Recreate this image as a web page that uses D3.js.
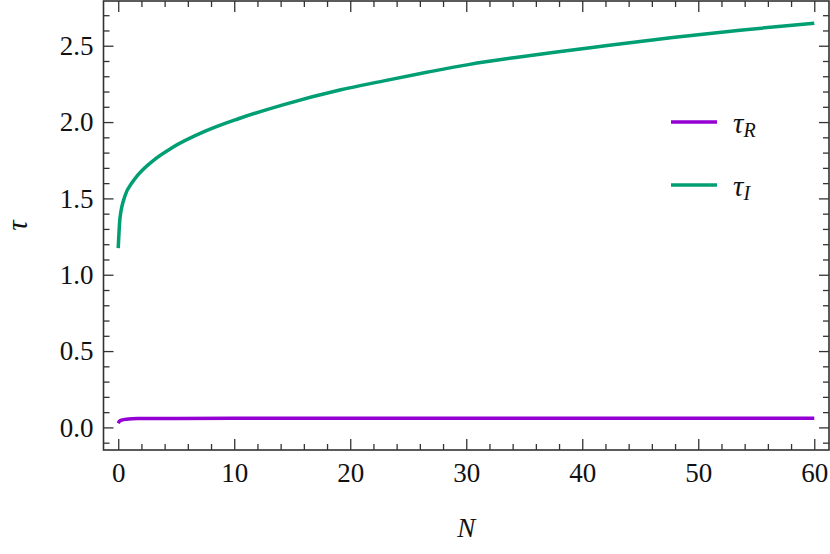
<!DOCTYPE html>
<html>
<head>
<meta charset="utf-8">
<script src="https://cdn.jsdelivr.net/npm/d3@7"></script>
<style>
  html, body { margin: 0; padding: 0; background: #fff; }
  svg { display: block; }
  text { font-family: "Liberation Serif", "Times New Roman", Times, serif; fill: #111; }
</style>
</head>
<body>
<div id="app"></div>
<script>
// values
const nImag = [0, 0.15, 0.6, 1.2, 1.7, 3.2, 4.6, 7.5, 10.3, 14.2, 19.1, 22.9, 26.6, 30.3, 34.1, 37.8, 41.5, 47.8, 53.6, 60];
const tauImag = [1.174, 1.37, 1.52, 1.604, 1.654, 1.759, 1.83, 1.94, 2.02, 2.113, 2.21, 2.27, 2.326, 2.378, 2.421, 2.459, 2.495, 2.554, 2.602, 2.648];

const nReal = [0, 0.1, 0.3, 0.7, 1.7, 5, 15, 30, 60];
const tauReal = [0.027, 0.04, 0.048, 0.054, 0.058, 0.059, 0.0595, 0.0596, 0.0596];

const xTicks = [0, 10, 20, 30, 40, 50, 60];
const yTicks = [0.0, 0.5, 1.0, 1.5, 2.0, 2.5];

const series = [
  { name: 'R', color: '#9400d3', n: nReal, tau: tauReal },
  { name: 'I', color: '#009e73', n: nImag, tau: tauImag },
];

const render = () => {
  const width = 830;
  const height = 554;
  const left = 103.5, right = 829, top = 1, bottom = 450;
  const frameColor = '#333';
  const serif = '"Liberation Serif", "Times New Roman", Times, serif';

  const svg = d3.select('#app').append('svg')
    .attr('width', width)
    .attr('height', height);

  const x = d3.scaleLinear()
    .domain([-1.27, 61.27])
    .range([left, right]);

  const y = d3.scaleLinear()
    .domain([-0.148, 2.793])
    .range([bottom, top]);

  const line = d3.line()
    .x(d => x(d[0]))
    .y(d => y(d[1]))
    .curve(d3.curveMonotoneX);

  const plot = svg.append('g');
  series.forEach(s => {
    plot.append('path')
      .datum(d3.zip(s.n, s.tau))
      .attr('fill', 'none')
      .attr('stroke', s.color)
      .attr('stroke-width', 3.5)
      .attr('d', line);
  });

  // minor tick positions
  const xMinor = d3.range(0, 61, 2).filter(v => v % 10 !== 0);
  const yMinor = d3.range(-1, 28).map(v => v / 10).filter(v => Math.round(v * 10) % 5 !== 0);

  const styleAxis = g => {
    g.select('.domain').remove();
    g.selectAll('line').attr('stroke', frameColor).attr('stroke-width', 1.3);
    g.selectAll('text')
      .style('font-size', '27px')
      .style('font-family', serif)
      .attr('fill', '#111');
  };

  // bottom
  svg.append('g').attr('transform', `translate(0, ${bottom})`)
    .call(d3.axisBottom(x).tickValues(xTicks).tickFormat(d3.format('d')).tickSize(-11).tickPadding(13))
    .call(styleAxis);
  svg.append('g').attr('transform', `translate(0, ${bottom})`)
    .call(d3.axisBottom(x).tickValues(xMinor).tickFormat('').tickSize(-6))
    .call(styleAxis);
  // top
  svg.append('g').attr('transform', `translate(0, ${top})`)
    .call(d3.axisTop(x).tickValues(xTicks).tickFormat('').tickSize(-11))
    .call(styleAxis);
  svg.append('g').attr('transform', `translate(0, ${top})`)
    .call(d3.axisTop(x).tickValues(xMinor).tickFormat('').tickSize(-6))
    .call(styleAxis);
  // left
  svg.append('g').attr('transform', `translate(${left}, 0)`)
    .call(d3.axisLeft(y).tickValues(yTicks).tickFormat(d3.format('.1f')).tickSize(-10).tickPadding(10))
    .call(styleAxis);
  svg.append('g').attr('transform', `translate(${left}, 0)`)
    .call(d3.axisLeft(y).tickValues(yMinor).tickFormat('').tickSize(-6))
    .call(styleAxis);
  // right
  svg.append('g').attr('transform', `translate(${right}, 0)`)
    .call(d3.axisRight(y).tickValues(yTicks).tickFormat('').tickSize(-10))
    .call(styleAxis);
  svg.append('g').attr('transform', `translate(${right}, 0)`)
    .call(d3.axisRight(y).tickValues(yMinor).tickFormat('').tickSize(-6))
    .call(styleAxis);

  // frame
  svg.append('rect')
    .attr('x', left)
    .attr('y', top)
    .attr('width', right - left)
    .attr('height', bottom - top)
    .attr('fill', 'none')
    .attr('stroke', frameColor)
    .attr('stroke-width', 1.6);

  // axis labels
  svg.append('text')
    .attr('x', (left + right) / 2)
    .attr('y', 537)
    .attr('text-anchor', 'middle')
    .style('font-size', '27px')
    .style('font-style', 'italic')
    .text('N');

  svg.append('text')
    .attr('transform', `translate(27, ${(top + bottom) / 2}) rotate(-90)`)
    .attr('text-anchor', 'middle')
    .style('font-size', '29px')
    .style('font-style', 'italic')
    .text('τ');

  // legend
  const legend = svg.append('g').attr('transform', 'translate(671, 122)');
  series.forEach((s, i) => {
    const row = legend.append('g').attr('transform', `translate(0, ${i * 63})`);
    row.append('line')
      .attr('x1', 0).attr('x2', 46)
      .attr('stroke', s.color)
      .attr('stroke-width', 3.5);
    const t = row.append('text')
      .attr('x', 62)
      .attr('y', 11)
      .style('font-size', '29px')
      .style('font-style', 'italic');
    t.append('tspan').text('τ');
    t.append('tspan')
      .attr('dy', 4)
      .style('font-size', '20px')
      .text(s.name);
  });
};

document.addEventListener('DOMContentLoaded', render);
</script>
</body>
</html>
